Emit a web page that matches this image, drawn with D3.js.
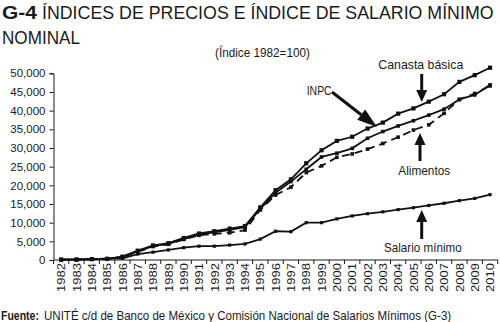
<!DOCTYPE html>
<html>
<head>
<meta charset="utf-8">
<script src="https://cdn.jsdelivr.net/npm/d3@7/dist/d3.min.js"></script>
<style>
  html, body { margin: 0; padding: 0; background: #fff; }
  svg { display: block; }
  text { font-family: "Liberation Sans", Arial, sans-serif; fill: #1a1a1a; }
</style>
</head>
<body>
<svg id="chart" width="500" height="322"></svg>
<script>
// Índices 1982 = 100
const years = ["1982","1983","1984","1985","1986","1987","1988","1989","1990","1991",
  "1992","1993","1994","1995","1996","1997","1998","1999","2000","2001","2002","2003",
  "2004","2005","2006","2007","2008","2009","2010"];
const canastaBasica = [100, 110, 220, 330, 900, 2500, 3900, 4500, 5900, 7100, 7700, 8400, 9100,
  14100, 18700, 21600, 25900, 29400, 31900, 33000, 35200, 36800, 39200, 40600, 42400, 44400,
  47700, 49500, 51500];
const inpc = [100, 100, 200, 300, 850, 2300, 3700, 4300, 5600, 6800, 7400, 8100, 8800,
  13700, 18000, 21000, 24300, 27600, 28600, 29900, 32600, 34400, 35900, 37300, 38800, 40400,
  43000, 44200, 46900];
const alimentos = [100, 100, 200, 300, 800, 2200, 3600, 4200, 5500, 6600, 7000, 7300, 8000,
  13400, 17400, 19500, 23400, 25200, 27500, 28400, 29700, 31200, 32900, 34800, 36200, 39300,
  43000, 44600, 46600];
const salarioMinimo = [100, 150, 250, 350, 450, 1600, 2100, 2700, 3300, 3700, 3700, 4000, 4300,
  5600, 7700, 7600, 10000, 10000, 11000, 11800, 12400, 12900, 13500, 14000, 14600, 15200,
  15900, 16500, 17500];
const yTicks = [0, 5000, 10000, 15000, 20000, 25000, 30000, 35000, 40000, 45000, 50000];

const svg = d3.select("#chart");
const plotLeft = 53.5, plotRight = 497.7, plotTop = 73.3, plotBottom = 260;

const xBand = d3.scaleBand().domain(years).range([plotLeft, plotRight]);
const x = d3.scalePoint().domain(years).range([plotLeft, plotRight]).padding(0.5);
const y = d3.scaleLinear().domain([0, 50000]).range([plotBottom, plotTop]);

// Condensed-looking text: each label is squeezed horizontally to a set width
function label(px, py, str, size, width, opts = {}) {
  const g = svg.append("g");
  const t = g.append("text").style("font-size", size + "px").text(str);
  if (opts.bold) t.style("font-weight", "bold");
  const natural = t.node().getComputedTextLength();
  const sx = width / natural;
  g.attr("transform", `translate(${px},${py}) scale(${sx},1)`);
  return t;
}

// Title
label(2, 18.5, "G-4", 19, 35, { bold: true });
label(42, 18.5, "ÍNDICES DE PRECIOS E ÍNDICE DE SALARIO MÍNIMO", 19, 452);
label(2, 43.5, "NOMINAL", 19, 78);
label(215, 57, "(Índice 1982=100)", 12, 95);

// Y axis
const yAxis = d3.axisLeft(y).tickValues(yTicks).tickSize(4).tickPadding(4)
  .tickFormat(d3.format(","));
const gy = svg.append("g").attr("transform", `translate(${plotLeft},0)`).call(yAxis);
gy.attr("font-family", null);
gy.selectAll("text").style("font-size", "11.5px");
gy.selectAll("path, line").attr("stroke", "#1a1a1a");

// X axis: baseline, ticks on category boundaries, rotated labels
const gx = svg.append("g");
gx.append("line").attr("x1", plotLeft).attr("x2", plotRight)
  .attr("y1", plotBottom).attr("y2", plotBottom).attr("stroke", "#1a1a1a");
gx.selectAll("line.tk").data(years.concat(["end"])).join("line").attr("class", "tk")
  .attr("x1", d => d === "end" ? plotRight : xBand(d))
  .attr("x2", d => d === "end" ? plotRight : xBand(d))
  .attr("y1", plotBottom).attr("y2", plotBottom + 4).attr("stroke", "#1a1a1a");
gx.selectAll("text").data(years).join("text")
  .attr("transform", d => `translate(${x(d) + 4.2},${plotBottom + 3}) rotate(-90) scale(1.13,1)`)
  .attr("text-anchor", "end").style("font-size", "11.5px")
  .text(d => d);

// Series
const line = d3.line().x((d, i) => x(years[i])).y(d => y(d));
const series = [
  { values: salarioMinimo, dash: null, r: 1.6 },
  { values: alimentos, dash: "8,5", r: 1.8 },
  { values: inpc, dash: null, r: 1.8 },
  { values: canastaBasica, dash: null, r: 2.1 }
];
series.forEach(s => {
  svg.append("path").datum(s.values).attr("d", line).attr("fill", "none")
    .attr("stroke", "#111").attr("stroke-width", 1.8)
    .attr("stroke-dasharray", s.dash);
  svg.append("g").selectAll("rect").data(s.values).join("rect")
    .attr("x", (d, i) => x(years[i]) - s.r).attr("y", d => y(d) - s.r)
    .attr("width", s.r * 2).attr("height", s.r * 2).attr("fill", "#111");
});

// Annotation arrows
function arrow(x1, y1, x2, y2, headLen, headW, shaftW) {
  const dx = x2 - x1, dy = y2 - y1, len = Math.hypot(dx, dy);
  const ux = dx / len, uy = dy / len, px = -uy, py = ux;
  const bx = x2 - ux * headLen, by = y2 - uy * headLen;
  svg.append("line").attr("x1", x1).attr("y1", y1).attr("x2", bx).attr("y2", by)
    .attr("stroke", "#111").attr("stroke-width", shaftW);
  svg.append("path").attr("fill", "#111")
    .attr("d", `M${x2},${y2}L${bx + px * headW / 2},${by + py * headW / 2}L${bx - px * headW / 2},${by - py * headW / 2}Z`);
}
arrow(421.7, 74, 421.7, 102, 12, 11, 3);
arrow(332, 92, 377, 127, 20, 13, 3);
arrow(420, 161, 420, 133, 12, 11, 3);
arrow(421.7, 239, 421.7, 210, 12, 11, 3);

label(378.3, 68.5, "Canasta básica", 12.5, 85);
label(306.7, 95, "INPC", 12.5, 25);
label(398.3, 175, "Alimentos", 12.5, 52);
label(384, 252, "Salario mínimo", 12.5, 77.7);

// Source
label(1, 319.5, "Fuente:", 12.5, 38, { bold: true });
label(44, 319.5, "UNITÉ c/d de Banco de México y Comisión Nacional de Salarios Mínimos (G-3)", 12.5, 408);
</script>
</body>
</html>
